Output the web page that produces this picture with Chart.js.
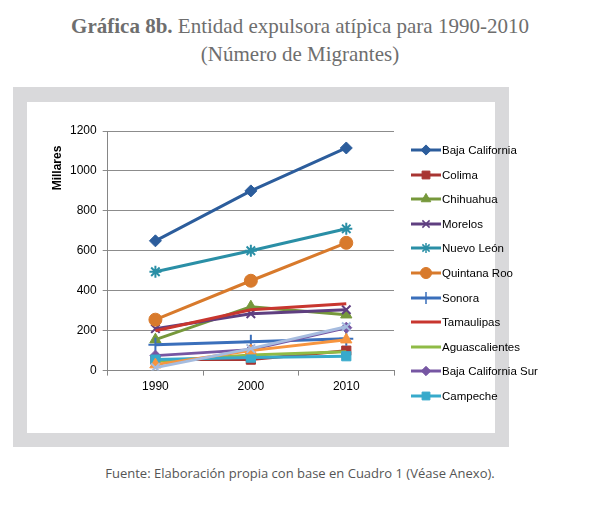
<!DOCTYPE html>
<html>
<head>
<meta charset="utf-8">
<script src="https://cdn.jsdelivr.net/npm/chart.js@4.4.1/dist/chart.umd.min.js"></script>
<style>
  html, body { margin: 0; padding: 0; background: #ffffff; }
  body { width: 600px; height: 513px; position: relative; overflow: hidden; }
  #title { position: absolute; left: 0; top: 12px; width: 600px; text-align: center;
    font-family: "Liberation Serif", "DejaVu Serif", serif; font-size: 21px; line-height: 28px; color: #6e6e6e; }
  #title b { font-weight: bold; }
  #outer { position: absolute; left: 13px; top: 87px; width: 496px; height: 360px; background: #d9d9db; }
  #inner { position: absolute; left: 14px; top: 15px; width: 468px; height: 331px; background: #ffffff; }
  #inner canvas#c { position: absolute; left: 0; top: 0; }
  #legend { position: absolute; left: 384px; top: 35.7px; }
  .li { height: 24.6px; display: flex; align-items: center; white-space: nowrap;
    font-family: "Liberation Sans", Arial, sans-serif; font-size: 11.5px; color: #000; }
  .li canvas { display: block; margin-right: 1px; }
  #foot { position: absolute; left: 0; top: 464px; width: 600px; text-align: center;
    font-family: "Open Sans", "Noto Sans", sans-serif; font-size: 13px; color: #555555; }
</style>
</head>
<body>
<div id="title"><b>Gráfica 8b.</b> Entidad expulsora atípica para 1990-2010<br>(Número de Migrantes)</div>
<div id="outer"><div id="inner"><canvas id="c" width="468" height="331"></canvas><div id="legend"></div></div></div>
<div id="foot">Fuente: Elaboración propia con base en Cuadro 1 (Véase Anexo).</div>
<script>
// ---- data ----
const years = ["1990", "2000", "2010"];
const yTicks = [0, 200, 400, 600, 800, 1000, 1200];
const seriesNames = ["Baja California", "Colima", "Chihuahua", "Morelos", "Nuevo León",
  "Quintana Roo", "Sonora", "Tamaulipas", "Aguascalientes", "Baja California Sur", "Campeche",
  "Serie 12", "Serie 13"];
const bajaCalifornia = [650, 900, 1115];
const colima = [55, 55, 100];
const chihuahua = [155, 320, 280];
const morelos = [210, 285, 305];
const nuevoLeon = [495, 600, 710];
const quintanaRoo = [255, 450, 640];
const sonora = [130, 145, 160];
const tamaulipas = [200, 305, 335];
const aguascalientes = [45, 78, 95];
const bajaCaliforniaSur = [75, 105, 215];
const campeche = [55, 65, 72];
const serie12 = [30, 100, 155];
const serie13 = [15, 110, 220];
const seriesValues = [bajaCalifornia, colima, chihuahua, morelos, nuevoLeon, quintanaRoo,
  sonora, tamaulipas, aguascalientes, bajaCaliforniaSur, campeche, serie12, serie13];
const legendCount = 11; // the reference legend lists only the first 11 series

// ---- styles ----
const colors = ["#2c5d9c", "#a83532", "#76983b", "#5f3f80", "#2a8fa6", "#d87a2c",
  "#3a6fbb", "#c8362f", "#8fbb46", "#7656a3", "#37aacb", "#f7953f", "#a6bcdf"];
const markers = ["rectRot", "rect", "triangle", "crossRot", "star", "circle",
  "cross", false, false, "rectRot", "rect", "triangle", "crossRot"];
const radii = [6, 6.5, 6.5, 6, 6, 6.5, 7, 0, 0, 5.5, 6.5, 6.5, 6];
const isLineMarker = (m) => m === 'crossRot' || m === 'star' || m === 'cross';

function legendIcon(i) {
  const cv = document.createElement('canvas');
  cv.width = 30; cv.height = 14;
  const ctx = cv.getContext('2d');
  ctx.strokeStyle = colors[i]; ctx.lineWidth = 3;
  ctx.beginPath(); ctx.moveTo(0, 7); ctx.lineTo(30, 7); ctx.stroke();
  if (markers[i]) {
    ctx.fillStyle = colors[i];
    ctx.strokeStyle = colors[i];
    ctx.lineWidth = isLineMarker(markers[i]) ? 1.5 : 1;
    Chart.helpers.drawPoint(ctx, {pointStyle: markers[i], radius: radii[i] * 0.85, borderWidth: ctx.lineWidth}, 15, 7);
  }
  return cv;
}

const legendEl = document.getElementById('legend');
for (let i = 0; i < legendCount; i++) {
  const row = document.createElement('div');
  row.className = 'li';
  row.appendChild(legendIcon(i));
  const span = document.createElement('span');
  span.textContent = seriesNames[i];
  row.appendChild(span);
  legendEl.appendChild(row);
}

const datasets = seriesNames.map((name, i) => ({
  label: name,
  data: seriesValues[i],
  borderColor: colors[i],
  backgroundColor: colors[i],
  borderWidth: 3,
  pointStyle: markers[i] || 'circle',
  pointRadius: radii[i],
  pointBorderWidth: isLineMarker(markers[i]) ? 2 : 1,
  pointBackgroundColor: colors[i],
  pointBorderColor: colors[i],
  tension: 0,
  order: -i
}));

const yTitle = {
  id: 'yTitle',
  afterDraw(chart) {
    const ctx = chart.ctx;
    ctx.save();
    ctx.translate(31, 66);
    ctx.rotate(-Math.PI / 2);
    ctx.font = 'bold 12px "Liberation Sans", Arial, sans-serif';
    ctx.fillStyle = '#000';
    ctx.textAlign = 'center'; ctx.textBaseline = 'middle';
    ctx.fillText('Millares', 0, 0);
    ctx.restore();
  }
};

new Chart(document.getElementById('c'), {
  type: 'line',
  data: { labels: years, datasets },
  options: {
    responsive: false,
    animation: false,
    layout: { padding: { left: 37, top: 29, right: 101, bottom: 35 } },
    plugins: {
      tooltip: { enabled: false },
      legend: { display: false }
    },
    scales: {
      x: {
        offset: true,
        grid: { offset: true, drawOnChartArea: false, color: '#868686', tickLength: 5, tickColor: '#868686' },
        border: { color: '#868686', width: 1 },
        ticks: { color: '#000', font: { family: '"Liberation Sans", Arial, sans-serif', size: 12 }, padding: 4 }
      },
      y: {
        min: 0, max: 1200,
        afterBuildTicks(axis) { axis.ticks = yTicks.map(v => ({ value: v })); },
        grid: { color: '#8c8c8c', tickLength: 5, tickColor: '#8c8c8c' },
        border: { color: '#868686', width: 1 },
        ticks: { color: '#000', font: { family: '"Liberation Sans", Arial, sans-serif', size: 12 }, padding: 6,
          callback: (v) => String(v) }
      }
    }
  },
  plugins: [yTitle]
});
</script>
</body>
</html>
